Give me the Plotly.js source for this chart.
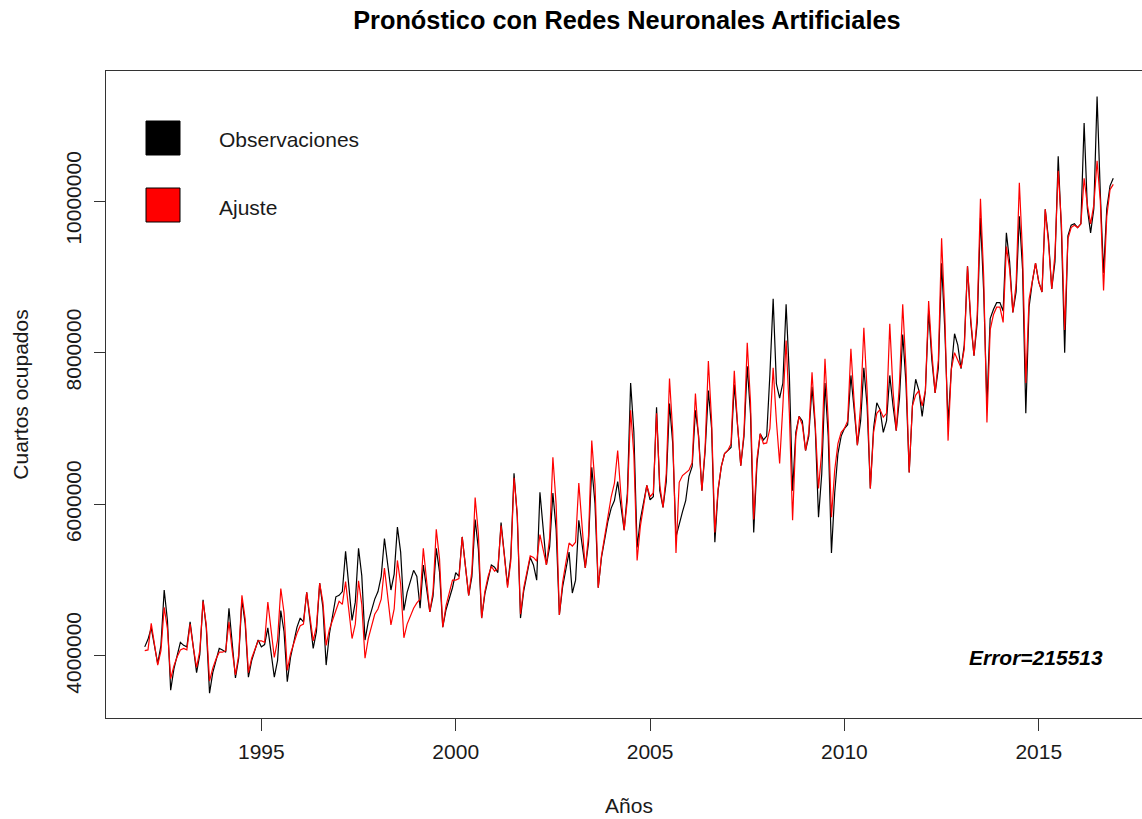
<!DOCTYPE html>
<html>
<head>
<meta charset="utf-8">
<script src="https://cdn.plot.ly/plotly-3.0.1.min.js"></script>
<style>
html, body { margin: 0; padding: 0; overflow: hidden; background: #fff; }
#chart { width: 1160px; height: 819px; }
</style>
</head>
<body>
<div id="chart"></div>
<script>
// Monthly series, January 1992 to December 2016
const startYear = 1992;
const frequency = 12;

const observaciones = [
  4.12e6, 4.22e6, 4.37e6, 4.11e6, 3.90e6, 4.14e6, 4.87e6, 4.47e6, 3.55e6, 3.83e6, 4.02e6, 4.18e6,
  4.14e6, 4.12e6, 4.45e6, 4.08e6, 3.78e6, 4.02e6, 4.74e6, 4.37e6, 3.51e6, 3.78e6, 3.95e6, 4.10e6,
  4.08e6, 4.05e6, 4.63e6, 4.12e6, 3.71e6, 3.97e6, 4.74e6, 4.43e6, 3.72e6, 3.94e6, 4.09e6, 4.21e6,
  4.12e6, 4.15e6, 4.37e6, 4.01e6, 3.72e6, 3.94e6, 4.60e6, 4.32e6, 3.66e6, 3.98e6, 4.20e6, 4.38e6,
  4.50e6, 4.45e6, 4.84e6, 4.43e6, 4.10e6, 4.32e6, 4.96e6, 4.64e6, 3.88e6, 4.29e6, 4.56e6, 4.78e6,
  4.80e6, 4.85e6, 5.38e6, 4.88e6, 4.47e6, 4.71e6, 5.42e6, 5.06e6, 4.21e6, 4.45e6, 4.62e6, 4.75e6,
  4.85e6, 5.05e6, 5.55e6, 5.18e6, 4.87e6, 5.08e6, 5.70e6, 5.37e6, 4.60e6, 4.84e6, 5.00e6, 5.13e6,
  5.05e6, 4.63e6, 5.20e6, 4.86e6, 4.58e6, 4.79e6, 5.42e6, 5.11e6, 4.38e6, 4.61e6, 4.77e6, 4.90e6,
  5.10e6, 5.05e6, 5.57e6, 5.15e6, 4.80e6, 5.05e6, 5.80e6, 5.41e6, 4.50e6, 4.82e6, 5.03e6, 5.20e6,
  5.17e6, 5.10e6, 5.76e6, 5.30e6, 4.93e6, 5.30e6, 6.41e6, 5.84e6, 4.50e6, 4.86e6, 5.10e6, 5.30e6,
  5.20e6, 5.00e6, 6.16e6, 5.63e6, 5.20e6, 5.44e6, 6.15e6, 5.67e6, 4.54e6, 4.91e6, 5.16e6, 5.37e6,
  4.83e6, 5.00e6, 5.79e6, 5.44e6, 5.16e6, 5.49e6, 6.49e6, 6.01e6, 4.90e6, 5.30e6, 5.56e6, 5.78e6,
  5.95e6, 6.05e6, 6.30e6, 5.95e6, 5.66e6, 6.15e6, 7.60e6, 6.95e6, 5.43e6, 5.80e6, 6.05e6, 6.25e6,
  6.06e6, 6.10e6, 7.28e6, 6.18e6, 5.96e6, 6.30e6, 7.33e6, 6.80e6, 5.57e6, 5.75e6, 5.90e6, 6.05e6,
  6.37e6, 6.50e6, 7.24e6, 6.90e6, 6.18e6, 6.70e6, 7.50e6, 7.00e6, 5.50e6, 6.18e6, 6.50e6, 6.67e6,
  6.71e6, 6.75e6, 7.58e6, 7.00e6, 6.51e6, 6.90e6, 7.82e6, 7.20e6, 5.63e6, 6.54e6, 6.93e6, 6.85e6,
  6.90e6, 7.72e6, 8.71e6, 7.59e6, 7.40e6, 7.60e6, 8.64e6, 7.70e6, 6.18e6, 6.95e6, 7.16e6, 7.10e6,
  6.71e6, 6.90e6, 7.55e6, 7.00e6, 5.83e6, 6.40e6, 7.60e6, 6.90e6, 5.36e6, 6.15e6, 6.67e6, 6.90e6,
  7.00e6, 7.05e6, 7.70e6, 7.25e6, 6.78e6, 7.10e6, 7.80e6, 7.30e6, 6.21e6, 7.00e6, 7.34e6, 7.25e6,
  6.95e6, 7.10e6, 7.70e6, 7.30e6, 6.97e6, 7.40e6, 8.24e6, 7.60e6, 6.42e6, 7.30e6, 7.65e6, 7.50e6,
  7.16e6, 7.50e6, 8.55e6, 7.90e6, 7.47e6, 7.80e6, 9.18e6, 8.30e6, 7.07e6, 7.78e6, 8.25e6, 8.10e6,
  7.79e6, 8.10e6, 9.14e6, 8.40e6, 7.96e6, 8.40e6, 9.78e6, 8.80e6, 7.30e6, 8.45e6, 8.57e6, 8.66e6,
  8.66e6, 8.55e6, 9.58e6, 9.20e6, 8.53e6, 8.80e6, 9.80e6, 9.10e6, 7.20e6, 8.60e6, 8.93e6, 9.18e6,
  8.93e6, 8.80e6, 9.89e6, 9.50e6, 8.84e6, 9.20e6, 10.59e6, 9.60e6, 8.00e6, 9.54e6, 9.68e6, 9.70e6,
  9.65e6, 9.70e6, 11.03e6, 9.90e6, 9.58e6, 9.90e6, 11.38e6, 10.10e6, 9.05e6, 9.90e6, 10.20e6, 10.30e6
];

const ajuste = [
  4.07e6, 4.08e6, 4.43e6, 4.13e6, 3.88e6, 4.07e6, 4.64e6, 4.36e6, 3.70e6, 3.87e6, 3.99e6, 4.08e6,
  4.10e6, 4.08e6, 4.42e6, 4.11e6, 3.85e6, 4.07e6, 4.72e6, 4.41e6, 3.67e6, 3.84e6, 3.96e6, 4.05e6,
  4.05e6, 4.07e6, 4.45e6, 4.07e6, 3.75e6, 4.01e6, 4.80e6, 4.49e6, 3.78e6, 3.97e6, 4.10e6, 4.20e6,
  4.20e6, 4.18e6, 4.71e6, 4.31e6, 3.98e6, 4.21e6, 4.89e6, 4.57e6, 3.81e6, 4.03e6, 4.18e6, 4.30e6,
  4.40e6, 4.42e6, 4.84e6, 4.49e6, 4.20e6, 4.39e6, 4.96e6, 4.71e6, 4.14e6, 4.35e6, 4.49e6, 4.60e6,
  4.72e6, 4.68e6, 4.98e6, 4.57e6, 4.23e6, 4.42e6, 4.99e6, 4.68e6, 3.97e6, 4.23e6, 4.41e6, 4.55e6,
  4.62e6, 4.75e6, 5.16e6, 4.75e6, 4.41e6, 4.62e6, 5.26e6, 4.95e6, 4.24e6, 4.42e6, 4.53e6, 4.63e6,
  4.70e6, 4.75e6, 5.42e6, 4.96e6, 4.58e6, 4.85e6, 5.67e6, 5.28e6, 4.38e6, 4.66e6, 4.85e6, 5.00e6,
  5.00e6, 5.02e6, 5.57e6, 5.15e6, 4.80e6, 5.12e6, 6.09e6, 5.61e6, 4.50e6, 4.85e6, 5.05e6, 5.18e6,
  5.12e6, 5.15e6, 5.72e6, 5.33e6, 4.90e6, 5.25e6, 6.35e6, 5.88e6, 4.55e6, 4.90e6, 5.12e6, 5.32e6,
  5.30e6, 5.25e6, 5.60e6, 5.38e6, 5.20e6, 5.56e6, 6.62e6, 6.00e6, 4.54e6, 4.97e6, 5.25e6, 5.49e6,
  5.45e6, 5.50e6, 6.28e6, 5.66e6, 5.16e6, 5.58e6, 6.84e6, 6.26e6, 4.90e6, 5.32e6, 5.58e6, 5.80e6,
  6.10e6, 6.28e6, 6.71e6, 6.13e6, 5.66e6, 6.06e6, 7.24e6, 6.65e6, 5.26e6, 5.71e6, 6.00e6, 6.25e6,
  6.10e6, 6.15e6, 7.20e6, 6.25e6, 5.96e6, 6.40e6, 7.66e6, 6.95e6, 5.36e6, 6.29e6, 6.38e6, 6.42e6,
  6.45e6, 6.55e6, 7.46e6, 6.85e6, 6.18e6, 6.75e6, 7.89e6, 7.10e6, 5.63e6, 6.20e6, 6.50e6, 6.67e6,
  6.71e6, 6.80e6, 7.76e6, 7.05e6, 6.51e6, 6.95e6, 8.13e6, 7.35e6, 5.80e6, 6.60e6, 6.93e6, 6.80e6,
  6.81e6, 7.00e6, 7.80e6, 7.10e6, 6.54e6, 7.30e6, 8.16e6, 7.20e6, 5.79e6, 6.90e6, 7.16e6, 7.05e6,
  6.71e6, 6.95e6, 7.74e6, 7.05e6, 6.21e6, 6.70e6, 7.92e6, 7.10e6, 5.83e6, 6.45e6, 6.80e6, 6.95e6,
  7.00e6, 7.10e6, 8.05e6, 7.35e6, 6.78e6, 7.30e6, 8.33e6, 7.50e6, 6.21e6, 6.95e6, 7.20e6, 7.25e6,
  7.15e6, 7.20e6, 8.38e6, 7.50e6, 6.97e6, 7.60e6, 8.64e6, 7.80e6, 6.42e6, 7.30e6, 7.44e6, 7.50e6,
  7.30e6, 7.50e6, 8.68e6, 8.00e6, 7.47e6, 7.90e6, 9.51e6, 8.50e6, 6.84e6, 7.78e6, 8.00e6, 7.90e6,
  7.80e6, 8.05e6, 9.14e6, 8.45e6, 7.96e6, 8.50e6, 10.03e6, 9.00e6, 7.08e6, 8.30e6, 8.50e6, 8.60e6,
  8.60e6, 8.40e6, 9.40e6, 9.10e6, 8.53e6, 8.90e6, 10.24e6, 9.30e6, 7.60e6, 8.70e6, 8.93e6, 9.18e6,
  8.93e6, 8.80e6, 9.89e6, 9.45e6, 8.84e6, 9.30e6, 10.40e6, 9.70e6, 8.30e6, 9.50e6, 9.65e6, 9.68e6,
  9.65e6, 9.70e6, 10.30e6, 9.95e6, 9.70e6, 9.95e6, 10.53e6, 10.00e6, 8.82e6, 9.80e6, 10.15e6, 10.22e6
];

const xTickVals = [1995, 2000, 2005, 2010, 2015];
const xTickText = ['1995', '2000', '2005', '2010', '2015'];
const yTickVals = [4000000, 6000000, 8000000, 10000000];
const yTickText = ['4000000', '6000000', '8000000', '10000000'];
const legendLabels = ['Observaciones', 'Ajuste'];
const legendColors = ['#000000', '#ff0000'];
const errorText = 'Error=215513';
const titleText = 'Pronóstico con Redes Neuronales Artificiales';

const tiempo = observaciones.map((_, i) => startYear + i / frequency);
const tiempoAjuste = ajuste.map((_, i) => startYear + i / frequency);

const FONT = '"Liberation Sans", Arial, Helvetica, sans-serif';
const TXT = '#1a1a1a';

const traces = [
  { x: tiempo, y: observaciones, type: 'scatter', mode: 'lines', name: legendLabels[0],
    line: { color: legendColors[0], width: 1.2 }, hoverinfo: 'skip' },
  { x: tiempoAjuste, y: ajuste, type: 'scatter', mode: 'lines', name: legendLabels[1],
    line: { color: legendColors[1], width: 1.2 }, hoverinfo: 'skip' }
];

const layout = {
  width: 1160, height: 819,
  margin: { l: 106, r: 8, t: 71, b: 101 },
  paper_bgcolor: '#ffffff', plot_bgcolor: '#ffffff',
  showlegend: false,
  font: { family: FONT, color: TXT, size: 21 },
  title: {
    text: '<b>' + titleText + '</b>',
    font: { family: FONT, size: 25.3, color: '#000000' },
    x: 0.498, xref: 'paper', xanchor: 'center',
    y: 1 - 20 / 819, yref: 'container', yanchor: 'middle'
  },
  xaxis: {
    range: [1991.003, 2017.913],
    tickmode: 'array', tickvals: xTickVals, ticktext: xTickText,
    ticks: 'outside', ticklen: 12, tickwidth: 1, tickcolor: '#333',
    ticklabelstandoff: 3,
    showline: true, mirror: true, linecolor: '#333', linewidth: 1,
    showgrid: false, zeroline: false,
    tickfont: { family: FONT, size: 21, color: TXT },
    title: { text: 'Años', font: { family: FONT, size: 21, color: TXT }, standoff: 36 },
    automargin: false
  },
  yaxis: {
    range: [3182000, 11715000],
    tickmode: 'array', tickvals: yTickVals, ticktext: yTickText,
    tickangle: -90,
    ticks: 'outside', ticklen: 11, tickwidth: 1, tickcolor: '#333',
    ticklabelstandoff: 5,
    showline: true, mirror: true, linecolor: '#333', linewidth: 1,
    showgrid: false, zeroline: false,
    tickfont: { family: FONT, size: 21, color: TXT },
    title: { text: 'Cuartos ocupados', font: { family: FONT, size: 21, color: TXT }, standoff: 27 },
    automargin: false
  },
  shapes: [
    { type: 'rect', xref: 'paper', yref: 'paper',
      x0: (146 - 106) / 1046, x1: (180 - 106) / 1046,
      y0: (718 - 155) / 647, y1: (718 - 121) / 647,
      fillcolor: legendColors[0], line: { color: '#000', width: 1 } },
    { type: 'rect', xref: 'paper', yref: 'paper',
      x0: (146 - 106) / 1046, x1: (180 - 106) / 1046,
      y0: (718 - 222) / 647, y1: (718 - 188) / 647,
      fillcolor: legendColors[1], line: { color: '#000', width: 1 } }
  ],
  annotations: [
    { xref: 'paper', yref: 'paper', x: (217 - 106) / 1046, y: (718 - 140) / 647,
      xanchor: 'left', yanchor: 'middle', showarrow: false, text: legendLabels[0],
      font: { family: FONT, size: 21, color: TXT } },
    { xref: 'paper', yref: 'paper', x: (217 - 106) / 1046, y: (718 - 207) / 647,
      xanchor: 'left', yanchor: 'middle', showarrow: false, text: legendLabels[1],
      font: { family: FONT, size: 21, color: TXT } },
    { xref: 'paper', yref: 'paper', x: (1105 - 106) / 1046, y: (718 - 657) / 647,
      xanchor: 'right', yanchor: 'middle', showarrow: false,
      text: '<b><i>' + errorText + '</i></b>',
      font: { family: FONT, size: 21, color: '#000000' } }
  ]
};

Plotly.newPlot('chart', traces, layout, { staticPlot: true, displayModeBar: false });
</script>
</body>
</html>
